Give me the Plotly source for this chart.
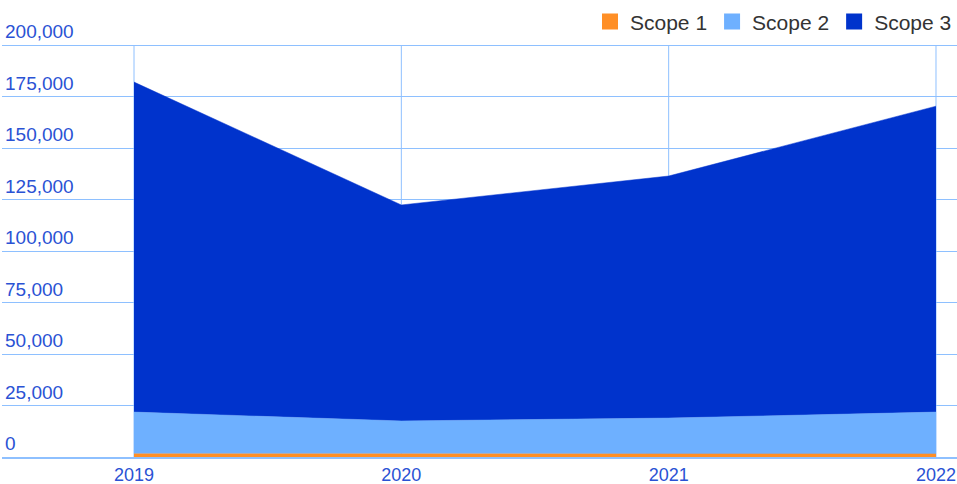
import plotly.graph_objects as go

YEARS = [2019, 2020, 2021, 2022]
SCOPE_1 = [1600, 1400, 1500, 1500]
SCOPE_2 = [20200, 16100, 17400, 20300]
SCOPE_3 = [160200, 104850, 117500, 148500]

SERIES = [
    ("Scope 1", SCOPE_1, "#ff8f26"),
    ("Scope 2", SCOPE_2, "#6eb0ff"),
    ("Scope 3", SCOPE_3, "#0033cc"),
]

Y_TOP = 200000
TICK_COLOR = "#2a52d4"
GRID_COLOR = "#8ec0ff"
FONT = "Liberation Sans, Arial, sans-serif"

fig = go.Figure()
for name, values, color in SERIES:
    fig.add_trace(
        go.Scatter(
            x=YEARS,
            y=values,
            name=name,
            mode="lines",
            stackgroup="scope",
            fillcolor=color,
            line={"color": color, "width": 0.5},
            showlegend=False,
        )
    )

# legend entries with square swatches
for name, _, color in SERIES:
    fig.add_trace(
        go.Scatter(
            x=[None],
            y=[None],
            name=name,
            mode="markers",
            marker={"symbol": "square", "size": 17, "color": color},
            showlegend=True,
        )
    )

# vertical grid lines only up to the top tick
for year in YEARS:
    fig.add_shape(
        type="line",
        xref="x",
        yref="y",
        x0=year,
        x1=year,
        y0=0,
        y1=Y_TOP,
        line={"color": GRID_COLOR, "width": 1},
        layer="below",
    )

fig.update_layout(
    width=957,
    height=484,
    margin={"l": 2, "r": 0, "t": 6, "b": 27},
    paper_bgcolor="#ffffff",
    plot_bgcolor="#ffffff",
    font={"family": FONT, "size": 19, "color": TICK_COLOR},
    showlegend=True,
    legend={
        "orientation": "h",
        "xanchor": "right",
        "x": 1,
        "yanchor": "middle",
        "y": 0.965,
        "font": {"size": 21, "color": "#333333"},
        "traceorder": "normal",
        "bgcolor": "rgba(0,0,0,0)",
    },
)
fig.update_xaxes(
    range=[2018.5062, 2022.0786],
    tickvals=YEARS,
    ticktext=[str(y) for y in YEARS],
    showgrid=False,
    zeroline=False,
    showline=True,
    linecolor=GRID_COLOR,
    linewidth=2,
    ticks="",
    tickfont={"size": 18, "color": TICK_COLOR},
)
fig.update_yaxes(
    range=[0, 218932],
    tickvals=[0, 25000, 50000, 75000, 100000, 125000, 150000, 175000, 200000],
    tickformat=",",
    showgrid=True,
    gridcolor=GRID_COLOR,
    gridwidth=1,
    zeroline=False,
    ticks="",
    ticklabelposition="inside top",
    tickfont={"size": 19, "color": TICK_COLOR},
)

fig.write_html(
    "out.html",
    config={"displayModeBar": False},
    post_script="document.body.style.margin='0';",
)
